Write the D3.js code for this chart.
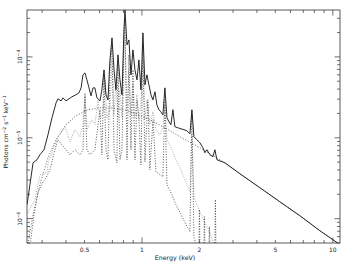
<!DOCTYPE html>
<html>
<head>
<meta charset="utf-8">
<script src="https://cdn.jsdelivr.net/npm/d3@7"></script>
<style>
  body { margin: 0; background: #fff; }
  text { font-family: 'DejaVu Sans', sans-serif; fill: #222; }
</style>
</head>
<body>
<script>
// energies (keV) and model flux (photons cm^-2 s^-1 keV^-1)
const totalEnergy = [0.250, 0.259, 0.269, 0.282, 0.292, 0.307, 0.322, 0.338, 0.355, 0.363, 0.377, 0.386, 0.400, 0.415, 0.430, 0.451, 0.468, 0.480, 0.491, 0.503, 0.515, 0.528, 0.541, 0.554, 0.567, 0.581, 0.603, 0.617, 0.633, 0.648, 0.664, 0.680, 0.697, 0.714, 0.731, 0.749, 0.767, 0.786, 0.805, 0.815, 0.835, 0.855, 0.876, 0.897, 0.919, 0.942, 0.964, 0.988, 1.012, 1.037, 1.062, 1.088, 1.115, 1.142, 1.170, 1.198, 1.227, 1.257, 1.288, 1.319, 1.352, 1.385, 1.418, 1.453, 1.488, 1.543, 1.600, 1.659, 1.720, 1.784, 1.827, 1.872, 1.941, 2.012, 2.086, 2.137, 2.189, 2.270, 2.354, 2.411, 2.470, 2.72, 3.26, 4.14, 5.27, 6.71, 8.54, 10.9];
const totalFlux = [1.49e-6, 2.63e-6, 4.91e-6, 5.35e-6, 6.17e-6, 7.11e-6, 1.09e-5, 1.77e-5, 2.70e-5, 3.03e-5, 2.86e-5, 3.12e-5, 2.86e-5, 3.03e-5, 3.21e-5, 3.40e-5, 3.60e-5, 4.14e-5, 6.00e-5, 6.34e-5, 5.20e-5, 4.14e-5, 3.30e-5, 4.14e-5, 4.14e-5, 3.12e-5, 2.86e-5, 3.92e-5, 6.91e-5, 3.40e-5, 2.94e-5, 9.18e-5, 1.72e-4, 6.91e-5, 3.92e-5, 1.06e-4, 5.20e-5, 3.40e-5, 2.16e-4, 3.80e-4, 1.41e-4, 1.62e-4, 6.00e-5, 1.22e-4, 6.91e-5, 5.20e-5, 9.18e-5, 3.92e-5, 1.98e-4, 4.51e-5, 6.00e-5, 4.51e-5, 3.40e-5, 2.94e-5, 3.70e-5, 2.55e-5, 2.22e-5, 2.09e-5, 1.92e-5, 4.14e-5, 1.77e-5, 1.58e-5, 1.45e-5, 2.22e-5, 1.37e-5, 1.33e-5, 1.29e-5, 1.26e-5, 1.22e-5, 1.12e-5, 2.22e-5, 1.03e-5, 9.45e-6, 8.67e-6, 7.53e-6, 6.53e-6, 7.11e-6, 6.17e-6, 5.83e-6, 7.11e-6, 5.35e-6, 4.91e-6, 3.59e-6, 2.42e-6, 1.62e-6, 1.09e-6, 7.11e-7, 4.78e-7];

// absorbed power law
const powerlawEnergy = [0.253, 0.269, 0.292, 0.322, 0.355, 0.400, 0.451, 0.521, 0.603, 0.697, 0.805, 0.930, 1.101, 1.319, 1.581, 2.012, 2.561, 3.26, 4.14, 5.27, 6.71, 8.54, 10.86];
const powerlawFlux = [4.9e-7, 1.12e-6, 2.63e-6, 5.66e-6, 9.45e-6, 1.45e-5, 1.87e-5, 2.22e-5, 2.34e-5, 2.34e-5, 2.22e-5, 1.98e-5, 1.67e-5, 1.33e-5, 1.03e-5, 7.53e-6, 5.35e-6, 3.59e-6, 2.42e-6, 1.62e-6, 1.09e-6, 7.11e-7, 4.78e-7];

// hotter plasma (light grey dotted)
const hotEnergy = [0.2531, 0.2655, 0.2753, 0.2924, 0.3069, 0.3181, 0.3224, 0.3420, 0.3633, 0.3813, 0.3952, 0.4198, 0.4458, 0.4735, 0.4911, 0.5030, 0.5153, 0.5473, 0.5673, 0.5884, 0.6026, 0.6249, 0.6401, 0.6557, 0.6800, 0.6966, 0.7136, 0.7310, 0.7489, 0.7672, 0.7860, 0.8052, 0.8149, 0.8348, 0.8548, 0.8757, 0.8972, 0.9191, 0.9415, 0.9645, 0.9880, 1.012, 1.037, 1.062, 1.101, 1.142, 1.184, 1.242, 1.288, 1.319, 1.352, 1.436, 1.507, 1.581, 1.680, 1.784, 1.827, 1.872, 2.012, 2.137, 2.270, 2.411];
const hotFlux = [1.19e-6, 1.49e-6, 1.72e-6, 3.49e-6, 3.59e-6, 3.70e-6, 4.91e-6, 7.11e-6, 1.03e-5, 1.19e-5, 1.37e-5, 8.93e-6, 1.26e-5, 1.03e-5, 1.45e-5, 3.60e-5, 1.26e-5, 1.67e-5, 1.45e-5, 2.94e-5, 1.77e-5, 2.04e-5, 5.20e-5, 1.77e-5, 2.22e-5, 9.18e-5, 1.92e-5, 4.51e-5, 1.77e-5, 3.92e-5, 1.77e-5, 1.22e-4, 1.87e-4, 2.22e-5, 6.91e-5, 1.92e-5, 4.51e-5, 1.77e-5, 3.40e-5, 1.67e-5, 2.55e-5, 9.18e-5, 1.67e-5, 2.94e-5, 1.45e-5, 2.09e-5, 1.26e-5, 1.09e-5, 1.33e-5, 2.55e-5, 9.45e-6, 7.11e-6, 5.35e-6, 4.27e-6, 3.03e-6, 2.15e-6, 1.09e-5, 1.82e-6, 1.22e-6, 8.93e-7, 6.71e-7, 4.5e-7];

// cooler plasma (dark dotted), steep fall above 1.3 keV, isolated lines near 2-2.4 keV
const coolEnergy = [0.259, 0.272, 0.285, 0.303, 0.311, 0.330, 0.350, 0.363, 0.381, 0.400, 0.420, 0.446, 0.474, 0.491, 0.503, 0.515, 0.534, 0.567, 0.603, 0.617, 0.632, 0.648, 0.664, 0.680, 0.697, 0.714, 0.740, 0.749, 0.767, 0.786, 0.805, 0.815, 0.835, 0.855, 0.876, 0.897, 0.919, 0.942, 0.965, 0.988, 1.012, 1.037, 1.075, 1.101, 1.142, 1.184, 1.242, 1.288, 1.319, 1.352, 1.436, 1.507, 1.581, 1.680, 1.784, 1.827, 1.872, 1.941, 1.988, 2.000, 2.012, 2.112, 2.125, 2.137, 2.243, 2.256, 2.270, 2.411, 2.426, 2.440];
const coolFlux = [4.5e-7, 1.12e-6, 2.09e-6, 2.86e-6, 3.03e-6, 4.03e-6, 7.11e-6, 9.45e-6, 8.19e-6, 7.11e-6, 6.17e-6, 7.11e-6, 6.17e-6, 7.11e-6, 3.40e-5, 7.11e-6, 6.17e-6, 7.11e-6, 2.22e-5, 6.17e-6, 6.00e-5, 7.11e-6, 5.35e-6, 6.91e-5, 1.41e-4, 7.11e-6, 4.91e-6, 7.97e-5, 5.35e-6, 7.11e-6, 1.62e-4, 2.86e-4, 5.35e-6, 1.06e-4, 7.11e-6, 6.91e-5, 5.35e-6, 2.94e-5, 1.67e-5, 4.64e-6, 1.41e-4, 5.06e-6, 2.94e-5, 4.03e-6, 1.67e-5, 3.80e-6, 3.49e-6, 3.30e-6, 2.94e-5, 2.63e-6, 1.98e-6, 1.49e-6, 1.19e-6, 8.93e-7, 6.91e-7, 1.92e-5, 5.83e-7, 4.5e-7, 4.5e-7, 1.29e-6, 4.5e-7, 4.5e-7, 1.06e-6, 4.5e-7, 4.5e-7, 7.96e-7, 4.5e-7, 4.5e-7, 1.72e-6, 4.5e-7];

const xTickLabels = [0.5, 1, 2, 5, 10];
const yTickLabels = [1e-4, 1e-5, 1e-6];

const width = 349, height = 268;
const margin = { top: 10, right: 9, bottom: 25, left: 27 };

const x = d3.scaleLog().domain([0.25, 10.9]).range([margin.left, width - margin.right]);
const y = d3.scaleLog().domain([5e-7, 3.8e-4]).range([height - margin.bottom, margin.top]);

const svg = d3.select('body').append('svg')
  .attr('width', width)
  .attr('height', height)
  .attr('viewBox', [0, 0, width, height]);

svg.append('clipPath').attr('id', 'plot-clip')
  .append('rect')
  .attr('x', margin.left).attr('y', margin.top)
  .attr('width', width - margin.left - margin.right)
  .attr('height', height - margin.top - margin.bottom);

const line = d3.line().x(d => x(d[0])).y(d => y(d[1]));
const zip = (e, f) => e.map((v, i) => [v, f[i]]);

const gLines = svg.append('g').attr('clip-path', 'url(#plot-clip)').attr('fill', 'none');

// components first, total on top
gLines.append('path')
  .datum(zip(hotEnergy, hotFlux))
  .attr('d', line)
  .attr('stroke', '#9a9a9a')
  .attr('stroke-width', 0.9)
  .attr('stroke-dasharray', '1,1.5');

gLines.append('path')
  .datum(zip(coolEnergy, coolFlux))
  .attr('d', line)
  .attr('stroke', '#444')
  .attr('stroke-width', 0.9)
  .attr('stroke-dasharray', '1,1.6');

gLines.append('path')
  .datum(zip(powerlawEnergy, powerlawFlux))
  .attr('d', line)
  .attr('stroke', '#555')
  .attr('stroke-width', 0.9)
  .attr('stroke-dasharray', '1,1.8');

gLines.append('path')
  .datum(zip(totalEnergy, totalFlux))
  .attr('d', line)
  .attr('stroke', '#111')
  .attr('stroke-width', 0.9);

// frame
const x0 = margin.left, x1 = width - margin.right;
const y0 = height - margin.bottom, y1 = margin.top;
svg.append('rect')
  .attr('x', x0).attr('y', y1)
  .attr('width', x1 - x0).attr('height', y0 - y1)
  .attr('fill', 'none').attr('stroke', '#333').attr('stroke-width', 0.8);

// ticks, drawn inward on all four sides
const xMinor = [];
[0.1, 1].forEach(dec => d3.range(1, 10).forEach(m => {
  const v = m * dec;
  if (v >= 0.25 && v <= 10.9) xMinor.push(v);
}));
xMinor.push(10);
const yMinor = [];
[1e-7, 1e-6, 1e-5, 1e-4].forEach(dec => d3.range(1, 10).forEach(m => {
  const v = m * dec;
  if (v >= 5e-7 && v <= 3.8e-4) yMinor.push(v);
}));

const isDecade = v => Math.abs(Math.log10(v) - Math.round(Math.log10(v))) < 1e-6;
const ticks = svg.append('g').attr('stroke', '#333').attr('stroke-width', 0.7);
xMinor.forEach(v => {
  const len = isDecade(v) ? 5.5 : 3;
  ticks.append('line').attr('x1', x(v)).attr('x2', x(v)).attr('y1', y0).attr('y2', y0 - len);
  ticks.append('line').attr('x1', x(v)).attr('x2', x(v)).attr('y1', y1).attr('y2', y1 + len);
});
yMinor.forEach(v => {
  const len = isDecade(v) ? 5.5 : 3;
  ticks.append('line').attr('y1', y(v)).attr('y2', y(v)).attr('x1', x0).attr('x2', x0 + len);
  ticks.append('line').attr('y1', y(v)).attr('y2', y(v)).attr('x1', x1).attr('x2', x1 - len);
});

// tick labels
svg.append('g').selectAll('text')
  .data(xTickLabels)
  .join('text')
  .attr('x', d => x(d))
  .attr('y', y0 + 9)
  .attr('text-anchor', 'middle')
  .attr('font-size', 6)
  .text(d => d);

const yLab = svg.append('g').selectAll('text')
  .data(yTickLabels)
  .join('text')
  .attr('transform', d => `translate(${x0 - 5},${y(d)}) rotate(-90)`)
  .attr('text-anchor', 'middle')
  .attr('font-size', 6);
yLab.append('tspan').text('10');
yLab.append('tspan').attr('dy', -2.5).attr('font-size', 4.5)
  .text(d => '\u2212' + Math.round(-Math.log10(d)));

// axis titles
svg.append('text')
  .attr('x', 175)
  .attr('y', y0 + 17)
  .attr('text-anchor', 'middle')
  .attr('font-size', 6.3)
  .text('Energy (keV)');

const yTitle = svg.append('text')
  .attr('transform', `translate(8,132) rotate(-90)`)
  .attr('text-anchor', 'middle')
  .attr('font-size', 6);
yTitle.append('tspan').text('Photons cm');
yTitle.append('tspan').attr('dy', -2.5).attr('font-size', 4.5).text('\u22122');
yTitle.append('tspan').attr('dy', 2.5).text(' s');
yTitle.append('tspan').attr('dy', -2.5).attr('font-size', 4.5).text('\u22121');
yTitle.append('tspan').attr('dy', 2.5).text(' keV');
yTitle.append('tspan').attr('dy', -2.5).attr('font-size', 4.5).text('\u22121');
</script>
</body>
</html>
